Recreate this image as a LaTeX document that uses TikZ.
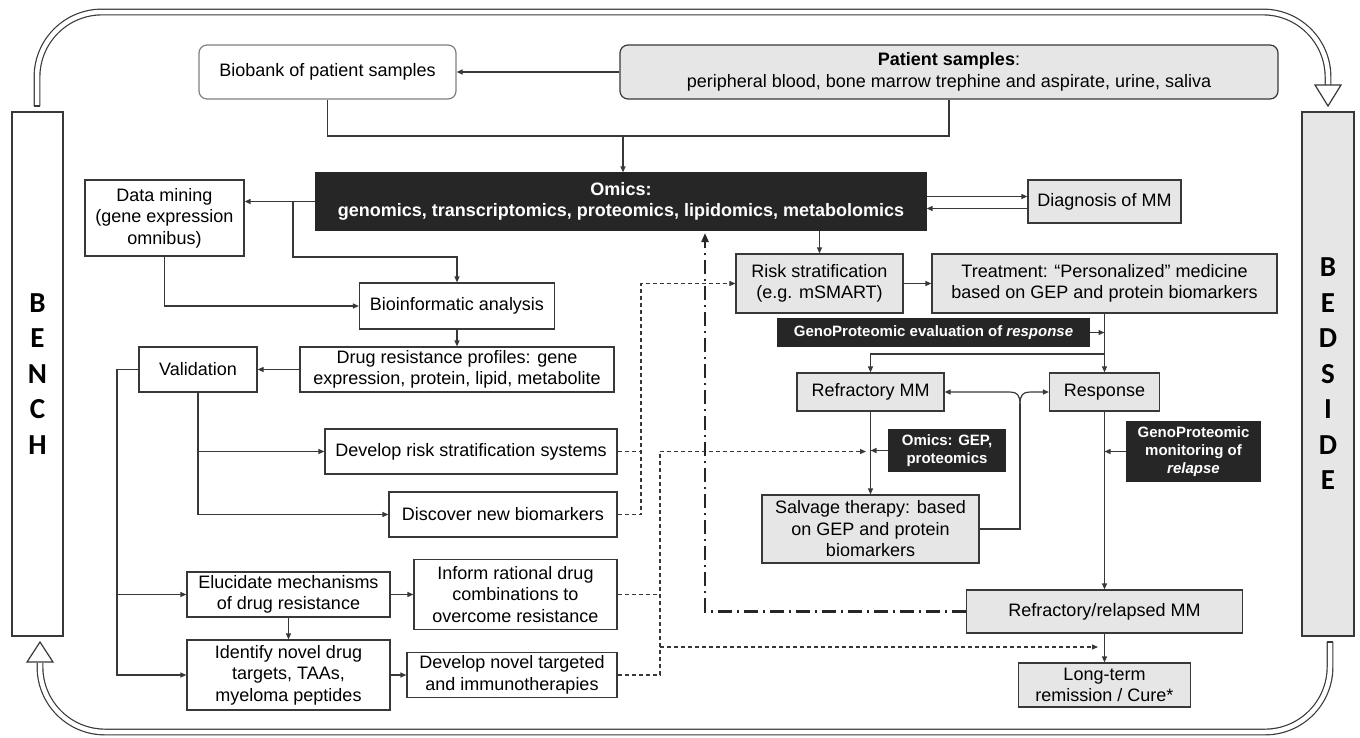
\documentclass[tikz,border=0pt]{standalone}
\usepackage{fontspec}
\setmainfont{Liberation Sans}
\newfontfamily\benchfont{Carlito}
\usetikzlibrary{arrows.meta}
\definecolor{ln}{HTML}{383838}
\definecolor{bx}{HTML}{E6E6E6}
\definecolor{dk}{HTML}{262626}
\begin{document}
\begin{tikzpicture}[x=1pt,y=-1pt,
  font=\fontsize{18}{21.5}\selectfont,
  box/.style={draw=ln, line width=1.2pt, align=center, inner sep=0pt},
  wbox/.style={box, fill=white},
  gbox/.style={box, fill=bx},
  kbox/.style={box, fill=dk, draw=dk, text=white, font=\bfseries\fontsize{15}{18}\selectfont},
  conn/.style={draw=ln, line width=1.2pt},
  arr/.style={conn, -{Triangle[length=6pt,width=5pt]}},
  dsh/.style={conn, line width=1.1pt, dash pattern=on 4pt off 3pt},
  ddot/.style={draw=dk, line width=2.2pt, dash pattern=on 14pt off 5pt on 2pt off 5pt},
  loopline/.style={draw=ln, double=white, double distance=4.5pt, line width=1.2pt, rounded corners=65pt},
  hollow/.style={draw=ln, fill=white, line width=1.2pt, line join=miter},
  lettercol/.style={font=\benchfont\bfseries\fontsize{29}{35.5}\selectfont}
]
\useasboundingbox (0,0) rectangle (1360,737);

% outer loop
\draw[loopline] (37,106) -- (37,12) -- (1328,12) -- (1328,86);
\draw[hollow] (1315,85) -- (1341,85) -- (1328,106) -- cycle;
\draw[loopline] (1330,642) -- (1330,732) -- (40,732) -- (40,663);
\draw[hollow] (27,662) -- (53,662) -- (40,642) -- cycle;
\draw[ln, line width=1.2pt] (33.7,106) -- (40.3,106);
\draw[ln, line width=1.2pt] (1326.7,642) -- (1333.3,642);

% side boxes
\node[wbox, lettercol, minimum width=51pt, minimum height=524pt] (bench) at (37.5,374) {B\\E\\N\\C\\H};
\node[gbox, lettercol, minimum width=52pt, minimum height=524pt] (bedside) at (1328,374) {B\\E\\D\\S\\I\\D\\E};

% top
\node[wbox, draw=gray, rounded corners=8pt, minimum width=257pt, minimum height=54pt] (biobank) at (327.5,72) {Biobank of patient samples};
\node[gbox, rounded corners=8pt, minimum width=658pt, minimum height=54pt] (patient) at (949,72) {\textbf{Patient samples}:\\peripheral blood, bone marrow trephine and aspirate, urine, saliva};
\node[box, fill=dk, draw=dk, text=white, font=\bfseries\fontsize{18}{21.5}\selectfont, minimum width=610pt, minimum height=57pt] (omics) at (621,201.5) {Omics:\\genomics, transcriptomics, proteomics, lipidomics, metabolomics};
\node[gbox, minimum width=153pt, minimum height=43pt] (diag) at (1104.5,201.5) {Diagnosis of MM};

% left column
\node[wbox, minimum width=159pt, minimum height=76pt] (datamining) at (164.5,218) {Data mining\\(gene expression\\omnibus)};
\node[wbox, minimum width=195pt, minimum height=46pt] (bioinf) at (457,306) {Bioinformatic analysis};
\node[wbox, minimum width=314pt, minimum height=45pt] (drug) at (457,369.5) {Drug resistance profiles: gene\\expression, protein, lipid, metabolite};
\node[wbox, minimum width=118pt, minimum height=45pt] (valid) at (198,369.5) {Validation};
\node[wbox, minimum width=292pt, minimum height=45pt] (devrisk) at (471,451.5) {Develop risk stratification systems};
\node[wbox, minimum width=228pt, minimum height=45pt] (discover) at (503,514.5) {Discover new biomarkers};
\node[wbox, minimum width=203pt, minimum height=45pt] (elucid) at (288.5,594.5) {Elucidate mechanisms\\of drug resistance};
\node[wbox, minimum width=203pt, minimum height=70pt] (inform) at (515.5,594.5) {Inform rational drug\\combinations to\\overcome resistance};
\node[wbox, minimum width=203pt, minimum height=70pt] (identify) at (288.5,675) {Identify novel drug\\targets, TAAs,\\myeloma peptides};
\node[wbox, minimum width=210pt, minimum height=45pt] (devnovel) at (512,675) {Develop novel targeted\\and immunotherapies};

% right column
\node[gbox, minimum width=167pt, minimum height=59pt] (risk) at (819.5,283.5) {Risk stratification\\(e.g. mSMART)};
\node[gbox, minimum width=345pt, minimum height=59pt] (treat) at (1104.5,283.5) {Treatment: ``Personalized'' medicine\\based on GEP and protein biomarkers};
\node[kbox, minimum width=311pt, minimum height=27pt] (gpeval) at (933.5,332.5) {GenoProteomic evaluation of \textit{response}};
\node[gbox, minimum width=147pt, minimum height=38pt] (refr) at (870.5,392) {Refractory MM};
\node[gbox, minimum width=110pt, minimum height=38pt] (resp) at (1104.5,392) {Response};
\node[kbox, minimum width=116pt, minimum height=41pt] (omicsgep) at (947,450.5) {Omics: GEP,\\proteomics};
\node[kbox, minimum width=133pt, minimum height=59pt] (gpmon) at (1193.5,451.5) {GenoProteomic\\monitoring of\\\textit{relapse}};
\node[gbox, minimum width=217pt, minimum height=68pt] (salvage) at (870.5,529) {Salvage therapy: based\\on GEP and protein\\biomarkers};
\node[gbox, minimum width=276pt, minimum height=43pt] (rr) at (1104.5,611.5) {Refractory/relapsed MM};
\node[gbox, minimum width=172pt, minimum height=44pt] (longterm) at (1104.5,685) {Long-term\\remission / Cure*};

% helper coordinates
\coordinate (j1) at (623,136);
\coordinate (j2) at (293,201.5);
\coordinate (j3) at (457,257);
\coordinate (v1) at (117,369.5);
\coordinate (t1) at (1104.5,354);
\coordinate (h0) at (1020,404);
\coordinate (dd) at (705,611.5);
\coordinate (ddtop) at (705,233);
\coordinate (d1) at (641,283.5);
\coordinate (d2) at (660,451.5);
\coordinate (d2e) at (866,451.5);
\coordinate (d3) at (660,647);
\coordinate (d3e) at (1098,647);
\coordinate (a1) at ([yshift=5pt]omics.east);
\coordinate (a2) at ([yshift=-7pt]omics.east);

% connectors left
\draw[arr] (patient.west) -- (biobank.east);
\draw[conn] (biobank.south) |- (j1) -| (patient.south);
\draw[arr] (j1) -- (j1 |- omics.north);
\draw[arr, line width=1.6pt] (omics.west) -- (omics.west -| datamining.east);
\draw[arr] (j2) |- (j3) -- (bioinf.north);
\draw[arr] (datamining.south) |- (bioinf.west);
\draw[arr] (bioinf.south) -- (drug.north);
\draw[arr] (drug.west) -- (valid.east);
\draw[arr] (valid.west) -- (v1) |- (identify.west);
\draw[arr] (v1 |- elucid.west) -- (elucid.west);
\draw[arr] (valid.south) |- (discover.west);
\draw[arr] (valid.south |- devrisk.west) -- (devrisk.west);
\draw[arr] (elucid.east) -- (elucid.east -| inform.west);
\draw[arr] (elucid.south) -- (identify.north);
\draw[arr] (identify.east) -- (identify.east -| devnovel.west);

% connectors right
\draw[arr] (a1) -- (a1 -| diag.west);
\draw[arr] (a2 -| diag.west) -- (a2);
\draw[arr] (risk.north |- omics.south) -- (risk.north);
\draw[arr] (risk.east) -- (treat.west);
\draw[arr] (treat.south) -- (resp.north);
\draw[arr] (t1) -| (refr.north);
\draw[arr] (gpeval.east) -- (gpeval.east -| treat.south);
\draw[arr] (refr.south) -- (salvage.north);
\draw[arr] (omicsgep.west) -- (omicsgep.west -| refr.south);
\draw[arr] (resp.south) -- (rr.north);
\draw[arr] (gpmon.west) -- (gpmon.west -| resp.south);
\draw[arr] (rr.south) -- (longterm.north);
\draw[conn] (salvage.east) -| (h0);
\draw[arr] (h0) .. controls (1020,395) and (1017,392) .. (1010,392) -- (refr.east);
\draw[arr] (h0) .. controls (1020,395) and (1023,392) .. (1030,392) -- (resp.west);

% dashed
\draw[dsh] (devrisk.east) -- (devrisk.east -| d1);
\draw[dsh, -{Triangle[length=6pt,width=5pt]}] (discover.east) -| (d1) -- (risk.west);
\draw[dsh] (inform.east) -- (inform.east -| d2);
\draw[dsh, -{Triangle[length=6pt,width=5pt]}] (devnovel.east) -| (d2) -- (d2e);
\draw[dsh, -{Triangle[length=6pt,width=5pt]}] (d3) -- (d3e);

% dash-dot
\draw[ddot, -{Triangle[length=9pt,width=7pt]}] (rr.west) -- (dd) -- (ddtop);
\end{tikzpicture}
\end{document}
